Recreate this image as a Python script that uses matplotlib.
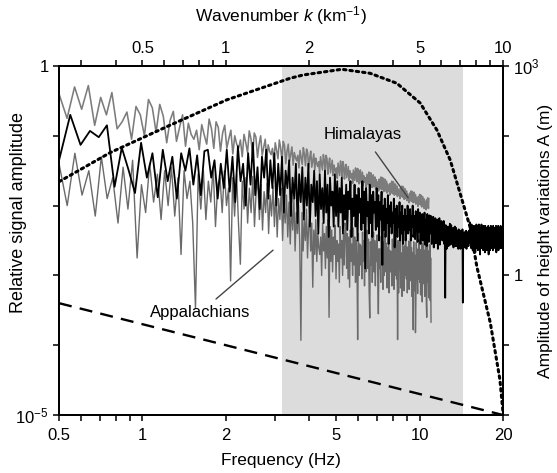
import numpy as np
import matplotlib
matplotlib.use("Agg")
from matplotlib import pyplot as plt
from matplotlib.ticker import FixedLocator, FixedFormatter, NullLocator

plt.rcParams['font.family'] = ['Liberation Sans', 'DejaVu Sans']
plt.rcParams['mathtext.fontset'] = 'custom'
plt.rcParams['mathtext.rm'] = 'Liberation Sans'
plt.rcParams['mathtext.it'] = 'Liberation Sans:italic'

# spectra as log10(relative amplitude) * 100
# frequency runs linearly from f_start to f_end over each list
himalaya_f = (0.5, 10.8)
himalaya_cb = [
    -40, -75, -30, -62, -28, -85, -45, -70, -38, -90,
    -80, -66, -105, -58, -70, -100, -48, -60, -95, -55,
    -72, -110, -78, -65, -108, -88, -70, -115, -82, -98,
    -105, -92, -120, -84, -99, -112, -76, -90, -118, -80,
    -88, -122, -96, -85, -118, -104, -92, -126, -100, -112,
    -118, -106, -130, -98, -110, -124, -93, -104, -128, -96,
    -102, -131, -112, -100, -128, -116, -105, -134, -113, -122,
    -127, -118, -138, -110, -121, -133, -106, -117, -136, -108,
    -114, -140, -122, -112, -137, -126, -116, -142, -124, -131,
    -136, -128, -146, -121, -131, -141, -117, -127, -143, -119,
    -124, -147, -131, -122, -145, -135, -126, -149, -132, -140,
    -144, -137, -153, -130, -139, -149, -127, -135, -151, -128,
    -133, -155, -140, -132, -153, -144, -135, -157, -142, -149,
    -153, -146, -161, -139, -148, -157, -136, -144, -159, -137,
    -142, -162, -148, -141, -160, -152, -144, -164, -150, -157,
    -161, -154, -168, -149, -156, -164, -146, -152, -166, -147,
    -150, -169, -155, -149, -167, -159, -152, -171, -157, -164,
    -167, -160, -174, -155, -162, -170, -152, -158, -172, -153,
    -157, -174, -162, -156, -173, -165, -159, -176, -163, -170,
    -173, -166, -179, -162, -168, -176, -159, -165, -177, -160,
    -163, -180, -168, -162, -179, -171, -165, -182, -169, -176,
    -179, -172, -185, -168, -174, -182, -165, -171, -183, -166,
    -170, -185, -175, -169, -184, -177, -172, -187, -176, -182,
    -185, -179, -190, -175, -181, -187, -172, -178, -188, -173,
    -177, -191, -182, -176, -190, -184, -179, -193, -183, -188,
    -191, -186, -196, -182, -187, -193, -179, -185, -194, -180,
    -182, -196, -187, -181, -195, -189, -184, -198, -188, -193,
    -196, -191, -201, -187, -192, -198, -184, -190, -199, -185,
    -188, -202, -193, -187, -201, -195, -190, -204, -194, -199,
    -201, -196, -206, -192, -197, -203, -189, -195, -204, -190,
]

appalachian_f = (0.5, 11.0)
appalachian_cb = [
    -140, -200, -125, -185, -150, -215, -130, -190, -160, -225,
    -145, -205, -135, -275, -170, -210, -140, -195, -155, -220,
    -150, -200, -145, -215, -160, -270, -150, -190, -165, -225,
    -347, -155, -205, -150, -220, -165, -195, -145, -230, -170,
    -160, -210, -150, -200, -175, -308, -160, -215, -155, -225,
    -284, -165, -205, -160, -225, -175, -210, -158, -230, -180,
    -165, -220, -170, -235, -180, -210, -168, -240, -185, -215,
    -172, -230, -180, -245, -190, -220, -175, -250, -195, -225,
    -185, -245, -195, -255, -200, -235, -190, -265, -210, -240,
    -200, -255, -393, -210, -265, -220, -250, -205, -275, -230,
    -215, -265, -225, -317, -235, -270, -220, -280, -240, -260,
    -270, -245, -300, -225, -265, -240, -290, -230, -275, -220,
    -360, -230, -280, -235, -295, -245, -270, -228, -305, -250,
    -280, -255, -310, -230, -275, -250, -300, -240, -285, -225,
    -230, -290, -240, -305, -245, -317, -235, -280, -255, -300,
    -232, -285, -245, -310, -250, -275, -392, -240, -300, -255,
    -285, -258, -305, -238, -280, -250, -315, -245, -295, -235,
    -236, -290, -248, -320, -361, -252, -285, -240, -310, -260,
    -238, -295, -250, -315, -255, -280, -242, -305, -355, -262,
    -290, -262, -310, -244, -285, -258, -320, -252, -300, -240,
    -242, -295, -254, -318, -260, -288, -246, -325, -264, -292,
    -295, -266, -315, -248, -290, -262, -320, -255, -300, -243,
    -245, -305, -256, -392, -250, -325, -263, -292, -249, -318,
    -298, -268, -330, -250, -295, -265, -322, -258, -300, -246,
    -247, -305, -259, -325, -266, -296, -251, -320, -270, -300,
    -248, -308, -260, -330, -267, -298, -378, -252, -322, -271,
    -272, -382, -335, -253, -300, -268, -326, -262, -305, -249,
    -250, -310, -263, -328, -269, -302, -254, -338, -273, -305,
    -251, -312, -264, -330, -270, -303, -255, -340, -360, -274,
    -252, -310, -265, -332, -271, -305, -256, -336, -275, -367,
]

black_f = (0.5, 20.0)
black_cb = [
    -135, -70, -113, -93, -102, -85, -173, -117, -149, -182,
    -110, -160, -125, -188, -120, -165, -130, -190, -125, -150,
    -118, -170, -128, -185, -122, -120, -160, -135, -190, -140, -175,
    -120, -180, -130, -195, -115, -165, -140, -200, -125, -170,
    -110, -185, -145, -205, -130, -160, -120, -190, -135, -175, -125,
    -200, -140, -185, -130, -210, -150, -175, -135, -215, -160,
    -190, -140, -225, -155, -195,
    -145, -220, -160, -200, -140, -230, -170, -195, -150, -215,
    -165, -240, -155, -205, -175, -225, -150, -210, -170, -245,
    -160, -200, -180, -230, -155, -215,
    -165, -230, -175, -210, -160, -240, -185, -220, -170, -235,
    -180, -205, -165, -245, -190, -215, -170, -230, -185, -250,
    -175, -210, -190, -235, -165, -225, -180, -290, -175, -215,
    -195, -240, -170, -225, -185, -245, -180, -210, -195, -235, -175,
    -230, -185, -250, -195, -220, -180, -285, -200, -235, -190,
    -245, -205, -225, -185, -255, -200, -230, -195, -240, -210,
    -225, -190, -260, -205, -235, -200, -245, -215, -230, -195,
    -250, -210, -240, -200, -255, -215, -235, -205, -250, -215, -240,
    -200, -240, -210, -235, -205, -250, -215, -230, -200, -245,
    -240, -215, -248, -208, -232, -218, -252, -205, -238, -212,
    -210, -255, -220, -235, -212, -250, -222, -238, -210, -256,
    -244, -220, -258, -212, -236, -225, -252, -214, -240, -218,
    -215, -255, -226, -240, -216, -260, -224, -242, -218, -254,
    -228, -245, -220, -262, -226, -246, -218, -256, -230, -248, -222,
    -225, -250, -230, -245, -222, -255, -232, -332, -228, -250,
    -262, -236, -250, -230, -258, -238, -248, -226, -256, -235,
    -228, -252, -240, -256, -232, -260, -238, -250, -230, -258,
    -256, -232, -258, -242, -252, -236, -262, -234, -254, -240,
    -240, -262, -236, -254, -244, -260, -234, -339, -240, -258,
    -255, -238, -260, -242, -254, -236, -262, -244, -256, -238,
    -244, -258, -236, -252, -242,
    -224, -254, -234, -261, -227, -251, -235, -264, -229, -248,
    -257, -241, -251, -229, -267, -235, -254, -227, -261, -238,
    -229, -264, -238, -251, -227, -261, -235, -270, -232, -254,
    -254, -227, -261, -232, -251, -238, -264, -229, -257, -241,
    -235, -267, -229, -257, -241, -251, -232, -264, -238, -259,
    -251, -229, -270, -235, -257, -232, -264, -241, -254, -229,
    -238, -261, -232, -254, -241, -264, -229, -257, -235, -251,
    -257, -232, -261, -238, -254, -229, -267, -241, -261, -232,
    -241, -251, -229, -264, -235, -257, -232, -254, -238, -261,
    -229, -251, -235, -261, -232, -254, -238, -248, -235,
]

# model curves
dotted_f = [0.5, 0.764, 1.224, 2.01, 3.41, 3.80, 5.24, 6.63, 8.28, 10.05,
            11.55, 12.9, 14.0, 15.2, 16.1, 18.0, 19.5, 20.0]
dotted_a = [0.022, 0.0573, 0.135, 0.326, 0.667, 0.743, 0.897, 0.786, 0.565,
            0.295, 0.121, 0.045, 0.0151, 0.0050, 0.00133, 2.1e-4, 3.2e-5, 1.1e-5]
dashed_f = [0.5, 20.0]
dashed_a = [4.0e-4, 1.0e-5]

band = (3.2, 14.4)

x_ticks = [0.5, 1, 2, 5, 10, 20]
x_labels = ['0.5', '1', '2', '5', '10', '20']
x_minor = [0.6, 0.7, 0.8, 0.9, 3, 4, 6, 7, 8, 9]
k_ticks = [0.5, 1, 2, 5, 10]
k_labels = ['0.5', '1', '2', '5', '10']
k_minor = [0.3, 0.4, 0.6, 0.7, 0.8, 0.9, 3, 4, 6, 7, 8, 9]


def series(rng, cb):
    f = np.linspace(rng[0], rng[1], len(cb))
    return f, 10 ** (np.array(cb) / 100.0)


fig = plt.figure(figsize=(5.57, 4.73), dpi=100)
ax = fig.add_axes([0.106, 0.1226, 0.797, 0.7379])

ax.axvspan(band[0], band[1], color='#dcdcdc', lw=0, zorder=0)

f, a = series(himalaya_f, himalaya_cb)
ax.plot(f, a, color='#7c7c7c', lw=1.15, zorder=2)
f, a = series(appalachian_f, appalachian_cb)
ax.plot(f, a, color='#6a6a6a', lw=1.0, zorder=2)
f, a = series(black_f, black_cb)
ax.plot(f, a, color='black', lw=1.3, zorder=3)

ax.plot(dotted_f, dotted_a, color='black', lw=2.2, ls=(0, (0.8, 1.3)),
        dash_capstyle='round', zorder=4)
ax.plot(dashed_f, dashed_a, color='black', lw=1.7, ls=(0, (5.5, 3.5)), zorder=4)

ax.annotate('Himalayas', xy=(9.1, 0.0129), xytext=(6.26, 0.103),
            ha='center', va='center', fontsize=12,
            arrowprops=dict(arrowstyle='-', color='#444444', lw=1.0,
                            shrinkA=6, shrinkB=0))
ax.annotate('Appalachians', xy=(2.96, 2.3e-3), xytext=(1.61, 2.9e-4),
            ha='center', va='center', fontsize=12,
            arrowprops=dict(arrowstyle='-', color='#444444', lw=1.0,
                            shrinkA=4, shrinkB=0))

ax.set_xscale('log')
ax.set_yscale('log')
ax.set_xlim(0.5, 20)
ax.set_ylim(1e-5, 1)
ax.xaxis.set_major_locator(FixedLocator(x_ticks))
ax.xaxis.set_major_formatter(FixedFormatter(x_labels))
ax.xaxis.set_minor_locator(FixedLocator(x_minor))
ax.yaxis.set_major_locator(FixedLocator([1e-5, 1e-4, 1e-3, 1e-2, 1e-1, 1]))
ax.yaxis.set_major_formatter(FixedFormatter(['10$^{-5}$', '', '', '', '', '1']))
ax.yaxis.set_minor_locator(NullLocator())
ax.set_xlabel('Frequency (Hz)', fontsize=12.5, labelpad=7)
ax.set_ylabel('Relative signal amplitude', fontsize=13)
ax.yaxis.set_label_coords(-0.072, 0.579)

axr = ax.twinx()
axr.set_yscale('log')
axr.set_ylim(1e-2, 1e3)
axr.yaxis.set_major_locator(FixedLocator([1e-2, 1e-1, 1, 10, 100, 1000]))
axr.yaxis.set_major_formatter(FixedFormatter(['', '', '1', '', '', '10$^3$']))
axr.yaxis.set_minor_locator(NullLocator())
axr.set_ylabel('Amplitude of height variations A (m)', fontsize=12.5)
axr.yaxis.set_label_coords(1.079, 0.5)

axt = ax.twiny()
axt.set_xscale('log')
axt.set_xlim(0.25, 10)
axt.xaxis.set_major_locator(FixedLocator(k_ticks))
axt.xaxis.set_major_formatter(FixedFormatter(k_labels))
axt.xaxis.set_minor_locator(FixedLocator(k_minor))
axt.set_xlabel('Wavenumber $k$ (km$^{-1}$)', fontsize=12.5, labelpad=14)

for a_ in (ax, axr, axt):
    for s in a_.spines.values():
        s.set_linewidth(1.2)
    a_.tick_params(which='both', direction='out', length=4.5, width=1.1,
                   labelsize=12, pad=3)
ax.tick_params(axis='x', pad=5)

fig.savefig('out.png', dpi=100)
